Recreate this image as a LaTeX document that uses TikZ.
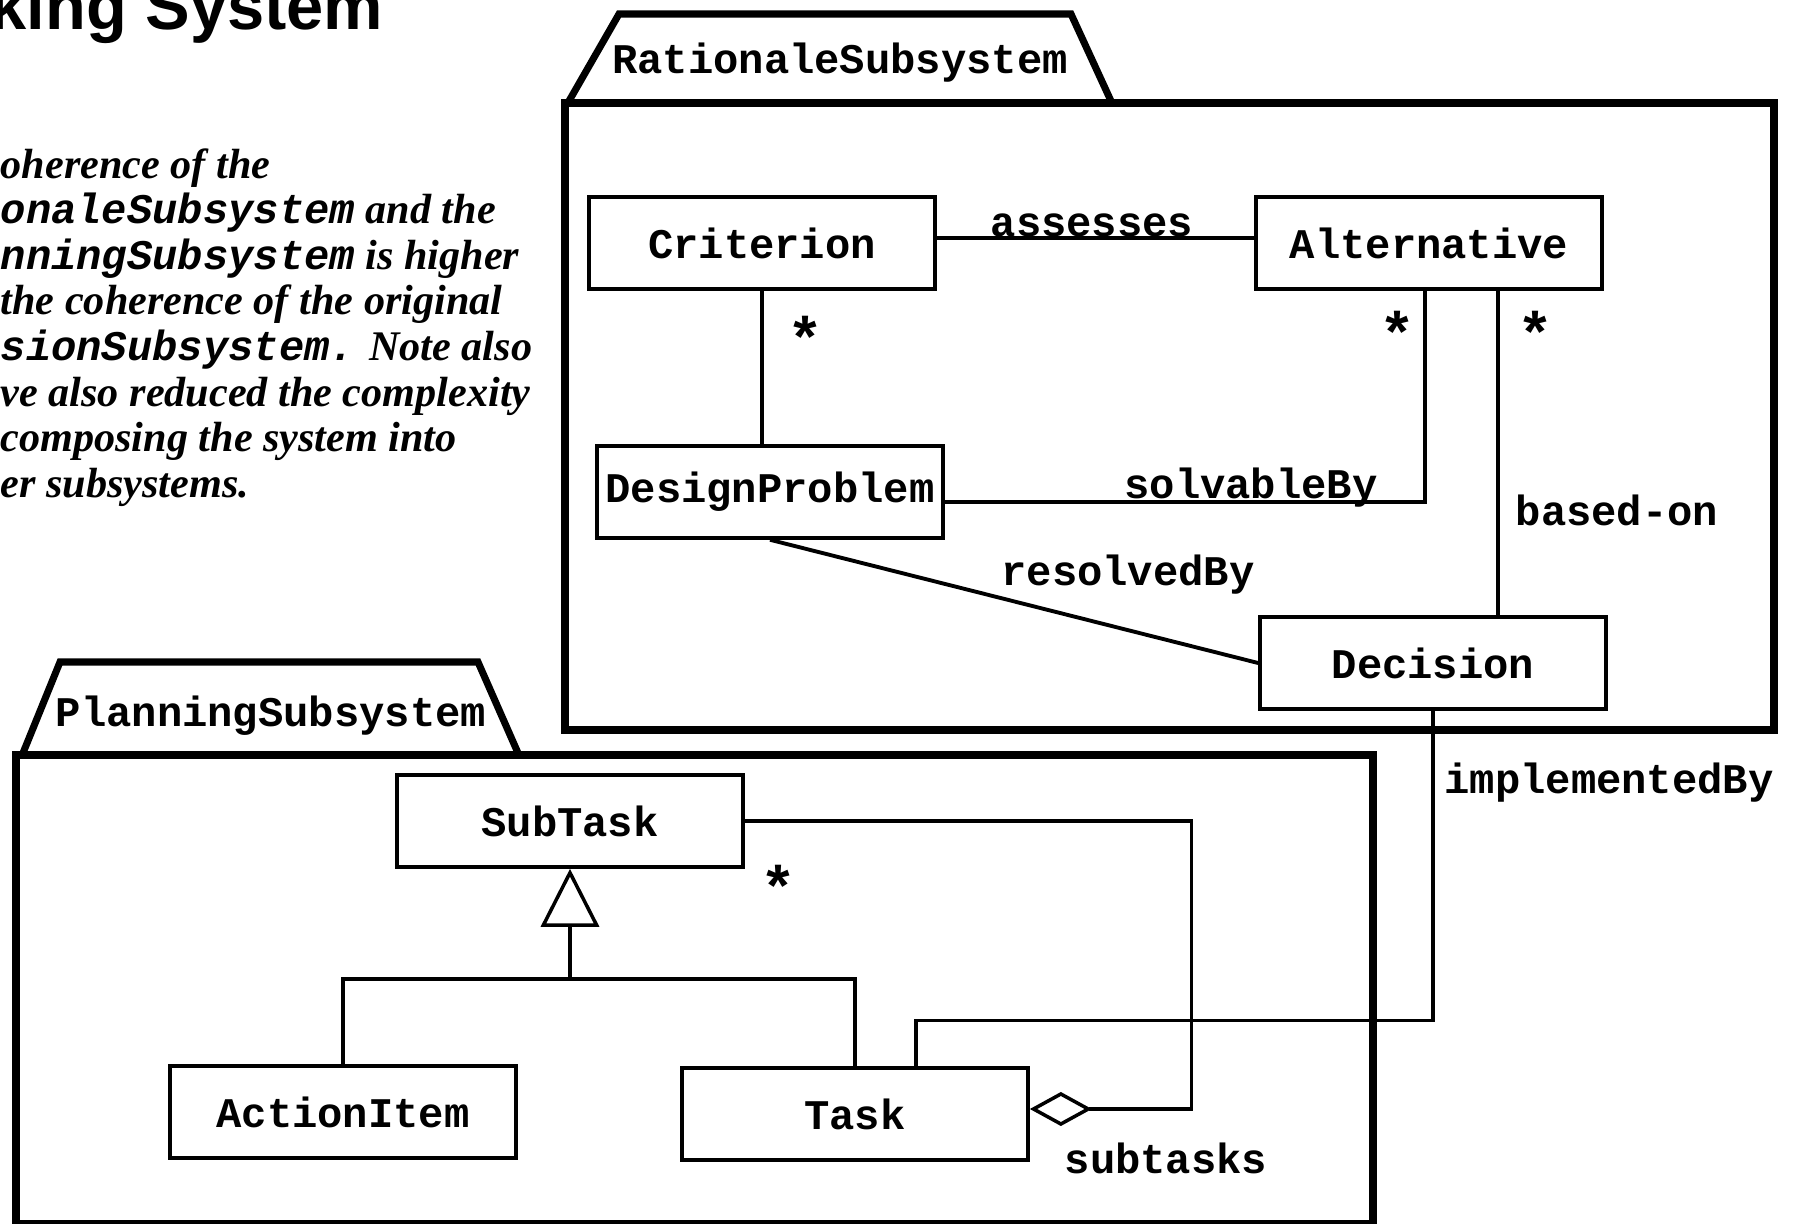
\documentclass[tikz,border=0pt]{standalone}
\usepackage{fontspec}
\setmainfont{Liberation Serif}
\setmonofont{Liberation Mono}
\newfontfamily\titlefont{Liberation Sans}
\usetikzlibrary{arrows.meta}

\newcommand{\cname}[1]{{\ttfamily #1}}

\begin{document}
\begin{tikzpicture}[x=0.01cm, y=-0.01cm,
    classbox/.style={draw, line width=1pt, minimum width=3.46cm, minimum height=0.92cm, inner sep=1pt,
        font=\ttfamily\bfseries\fontsize{12}{14}\selectfont},
    pkgline/.style={line width=2pt, line join=miter},
    assoc/.style={line width=0.9pt},
    lbl/.style={font=\ttfamily\bfseries\fontsize{12}{14}\selectfont, inner sep=0pt},
    mult/.style={font=\ttfamily\bfseries\fontsize{17}{18}\selectfont, inner sep=0pt},
    note/.style={anchor=base west, inner sep=0pt, font=\bfseries\itshape\fontsize{12}{13}\selectfont}]
        \useasboundingbox (0,0) rectangle (1796,1224);

        % Title and note
        \node[anchor=base east, inner sep=0pt, font=\titlefont\bfseries\fontsize{19}{22}\selectfont] (title) at (384,30) {king System};
        \foreach \txt [count=\i from 0] in {oherence of the,
                \cname{onaleSubsystem} and the,
                \cname{nningSubsystem} is higher,
                the coherence of the original,
                \cname{sionSubsystem.} Note also,
                ve also reduced the complexity,
                composing the system into,
                er subsystems.}
            \node[note] (note\i) at (0,178+45.6*\i) {\txt};

        % RationaleSubsystem package
        \draw[pkgline] (569,101) -- (619,14) -- (1071,14) -- (1111,101);
        \draw[pkgline] (565,103) rectangle (1774,730);
        \node[lbl] (Rtab) at (840,63) {RationaleSubsystem};

        \node[classbox] (Criterion) at (762,243) {Criterion};
        \node[classbox] (Alternative) at (1429,243) {Alternative};
        \node[classbox] (DesignProblem) at (770,492) {DesignProblem};
        \node[classbox] (Decision) at (1433,663) {Decision};

        \draw[assoc] ([yshift=0.05cm]Criterion.east) -- ([yshift=0.05cm]Alternative.west);
        \draw[assoc] (Criterion.south) -- (Criterion.south |- DesignProblem.north);
        \draw[assoc] ([yshift=-0.1cm]DesignProblem.east) -| ([xshift=-0.04cm]Alternative.south);
        \draw[assoc] ([xshift=0.69cm]Alternative.south) -- ([xshift=0.69cm]Alternative.south |- Decision.north);
        \draw[assoc, line width=1.1pt] (DesignProblem.south) -- (Decision.west);

        \node[lbl, anchor=base] (assesses) at (1092,236) {assesses};
        \node[lbl, anchor=base] (solvableBy) at (1251,498) {solvableBy};
        \node[lbl, anchor=base] (basedOn) at (1617,525) {based-on};
        \node[lbl, anchor=base] (resolvedBy) at (1128,585) {resolvedBy};
        \node[mult] (m1) at (805,338) {*};
        \node[mult] (m2) at (1397,333) {*};
        \node[mult] (m3) at (1535,333) {*};

        % PlanningSubsystem package
        \draw[pkgline] (23,753) -- (60,662) -- (478,662) -- (518,753);
        \draw[pkgline] (16,755) rectangle (1373,1224);
        \node[lbl] (Ptab) at (271,716) {PlanningSubsystem};

        \node[classbox] (SubTask) at (570,821) {SubTask};
        \node[classbox] (ActionItem) at (343,1112) {ActionItem};
        \node[classbox] (Task) at (855,1114) {Task};

        % Generalization
        \coordinate (gen) at (570,979);
        \draw[assoc, -{Triangle[open, length=0.58cm, width=0.58cm, line width=1pt]}] (gen) -- (SubTask.south);
        \draw[assoc] (ActionItem.north) |- (gen) -| (Task.north);

        % Aggregation
        \draw[assoc, {Diamond[open, length=0.62cm, width=0.34cm, line width=1pt]}-] ([yshift=0.05cm]Task.east) -- ++(162,0) |- (SubTask.east);
        \node[lbl, anchor=base] (subtasks) at (1166,1173) {subtasks};
        \node[mult] (m4) at (778,887) {*};

        % Link between the packages
        \draw[assoc] (Decision.south) -- ++(0,310) -| ([xshift=0.61cm]Task.north);
        \node[lbl, anchor=base] (implementedBy) at (1609,793) {implementedBy};
    \end{tikzpicture}
\end{document}
